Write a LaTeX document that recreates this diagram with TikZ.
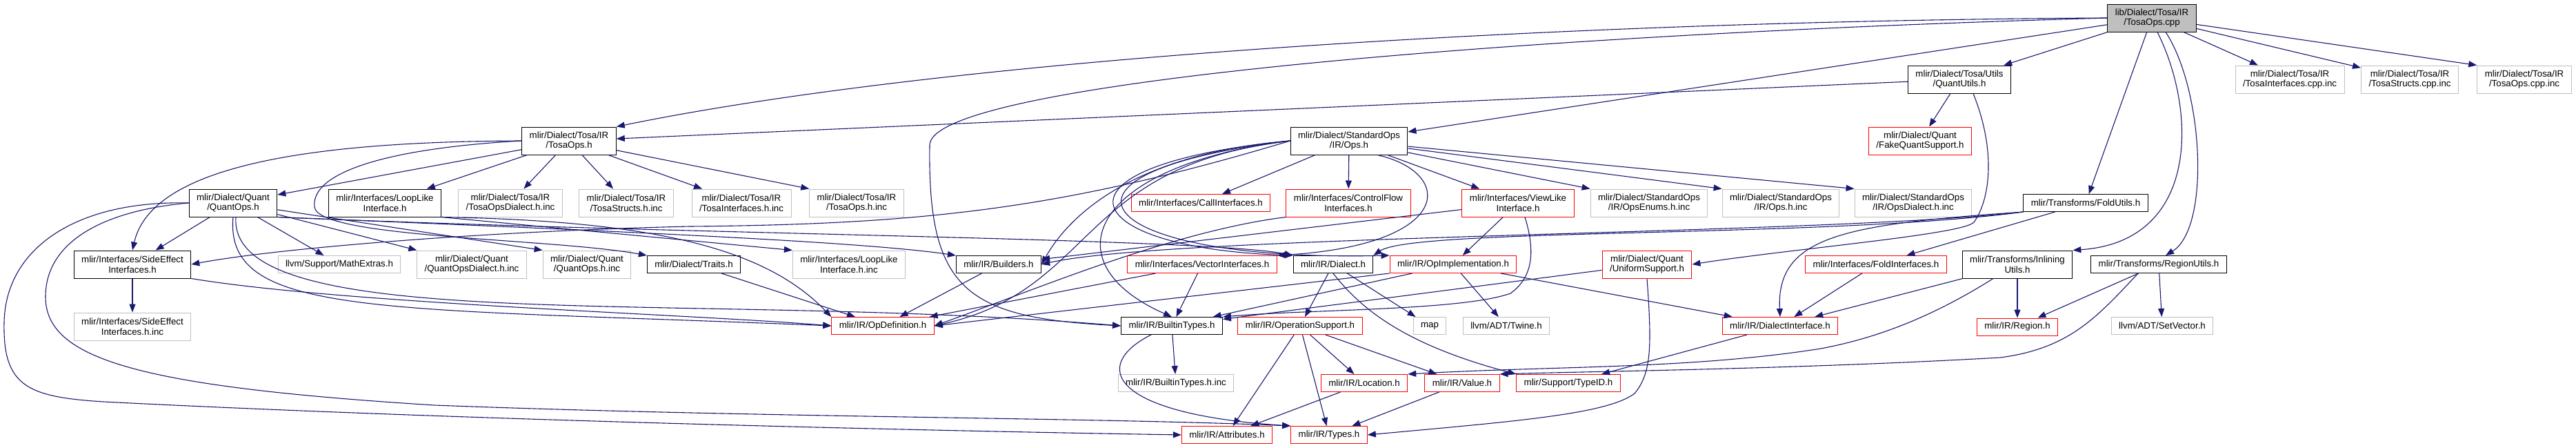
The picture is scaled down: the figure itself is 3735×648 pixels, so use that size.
\documentclass[tikz,border=0pt]{standalone}
\usepackage{fontspec}
\setmainfont{Liberation Sans}
\usetikzlibrary{arrows.meta, positioning}
\definecolor{edgeblue}{HTML}{191970}
\definecolor{incgray}{HTML}{BFBFBF}
\definecolor{srcgray}{HTML}{BFBFBF}
\newcommand{\filefont}{\fontsize{13.3}{14.5}\selectfont}

\begin{document}
\begin{tikzpicture}[
  x=1pt, y=-1pt,
  box/.style={draw=black, fill=white, line width=1pt, font=\filefont, align=center, inner xsep=11pt, inner ysep=2pt, minimum height=25pt},
  two/.style={minimum height=40pt},
  inc/.style={box, draw=incgray},
  trunc/.style={box, draw=red},
  src/.style={box, two, fill=srcgray},
  arrow/.style={-{Triangle[length=12pt, width=9pt]}, draw=edgeblue, line width=1.1pt}
]
  \useasboundingbox (0,0) rectangle (3735,648);

  % RANG 0 et 1 ================================
  \node[src] (root) at (3120,26) {lib/Dialect/Tosa/IR\\/TosaOps.cpp};
  \node[box, two] (quantutils) at (2841,115) {mlir/Dialect/Tosa/Utils\\/QuantUtils.h};
  \node[inc, two] (tosainterfacescpp) at (3320,115) {mlir/Dialect/Tosa/IR\\/TosaInterfaces.cpp.inc};
  \node[inc, two] (tosastructscpp) at (3494,115) {mlir/Dialect/Tosa/IR\\/TosaStructs.cpp.inc};
  \node[inc, two] (tosaopscpp) at (3660,115) {mlir/Dialect/Tosa/IR\\/TosaOps.cpp.inc};

  % RANG 2
  \node[box, two] (tosaopsh) at (825,204) {mlir/Dialect/Tosa/IR\\/TosaOps.h};
  \node[box, two] (stdops) at (1956,204) {mlir/Dialect/StandardOps\\/IR/Ops.h};
  \node[trunc, two] (fakequant) at (2784,204) {mlir/Dialect/Quant\\/FakeQuantSupport.h};

  % RANG 3
  \node[box, two] (quantops) at (338,294) {mlir/Dialect/Quant\\/QuantOps.h};
  \node[box, two] (looplike) at (558,294) {mlir/Interfaces/LoopLike\\Interface.h};
  \node[inc, two] (tosadialectinc) at (740,294) {mlir/Dialect/Tosa/IR\\/TosaOpsDialect.h.inc};
  \node[inc, two] (tosastructsinc) at (908,294) {mlir/Dialect/Tosa/IR\\/TosaStructs.h.inc};
  \node[inc, two] (tosainterfacesinc) at (1075,294) {mlir/Dialect/Tosa/IR\\/TosaInterfaces.h.inc};
  \node[inc, two] (tosaopsinc) at (1242,294) {mlir/Dialect/Tosa/IR\\/TosaOps.h.inc};
  \node[trunc] (callif) at (1741,294) {mlir/Interfaces/CallInterfaces.h};
  \node[trunc, two] (controlflow) at (1955,294) {mlir/Interfaces/ControlFlow\\Interfaces.h};
  \node[trunc, two] (viewlike) at (2201,294) {mlir/Interfaces/ViewLike\\Interface.h};
  \node[inc, two] (opsenums) at (2391,294) {mlir/Dialect/StandardOps\\/IR/OpsEnums.h.inc};
  \node[inc, two] (opsinc) at (2582,294) {mlir/Dialect/StandardOps\\/IR/Ops.h.inc};
  \node[inc, two] (opsdialectinc) at (2774,294) {mlir/Dialect/StandardOps\\/IR/OpsDialect.h.inc};
  \node[box] (foldutils) at (3024,294) {mlir/Transforms/FoldUtils.h};

  % RANG 4
  \node[box, two] (sideeffect) at (192,383) {mlir/Interfaces/SideEffect\\Interfaces.h};
  \node[inc, two, below=49pt of sideeffect] (sideeffectinc) {mlir/Interfaces/SideEffect\\Interfaces.h.inc};
  \node[inc] (mathextras) at (492,383) {llvm/Support/MathExtras.h};
  \node[inc, two] (quantdialectinc) at (684,383) {mlir/Dialect/Quant\\/QuantOpsDialect.h.inc};
  \node[inc, two] (quantopsinc) at (851,383) {mlir/Dialect/Quant\\/QuantOps.h.inc};
  \node[box] (traits) at (1006,383) {mlir/Dialect/Traits.h};
  \node[inc, two] (looplikeinc) at (1231,383) {mlir/Interfaces/LoopLike\\Interface.h.inc};
  \node[box] (builders) at (1448,383) {mlir/IR/Builders.h};
  \node[trunc] (vectorif) at (1743,383) {mlir/Interfaces/VectorInterfaces.h};
  \node[box] (dialect) at (1933,383) {mlir/IR/Dialect.h};
  \node[trunc] (opimpl) at (2107,383) {mlir/IR/OpImplementation.h};
  \node[trunc, two] (uniform) at (2388,383) {mlir/Dialect/Quant\\/UniformSupport.h};
  \node[trunc] (foldif) at (2720,383) {mlir/Interfaces/FoldInterfaces.h};
  \node[box, two] (inlining) at (2925,383) {mlir/Transforms/Inlining\\Utils.h};
  \node[box] (regionutils) at (3130,383) {mlir/Transforms/RegionUtils.h};

  % RANG 5
  \node[trunc] (opdef) at (1280,472) {mlir/IR/OpDefinition.h};
  \node[box] (builtintypes) at (1699,472) {mlir/IR/BuiltinTypes.h};
  \node[trunc] (opsupport) at (1885,472) {mlir/IR/OperationSupport.h};
  \node[inc] (map) at (2073,472) {map};
  \node[inc] (twine) at (2184,472) {llvm/ADT/Twine.h};
  \node[trunc] (dialectif) at (2581,472) {mlir/IR/DialectInterface.h};
  \node[trunc, below=57pt of inlining] (region) {mlir/IR/Region.h};
  \node[inc] (setvector) at (3135,472) {llvm/ADT/SetVector.h};

  % RANG 6 et 7
  \node[inc, below=57pt of builtintypes, xshift=6pt] (builtintypesinc) {mlir/IR/BuiltinTypes.h.inc};
  \node[trunc] (location) at (1978,555) {mlir/IR/Location.h};
  \node[trunc] (value) at (2120,555) {mlir/IR/Value.h};
  \node[trunc] (typeid) at (2274,555) {mlir/Support/TypeID.h};
  \node[trunc] (attributes) at (1779,630) {mlir/IR/Attributes.h};
  \node[trunc] (types) at (1927,630) {mlir/IR/Types.h};

  % Fichier source
  \draw[arrow] (root.west) .. controls (2300,30) and (1400,80) .. (tosaopsh.north east);
  \draw[arrow] (root) -- (stdops);
  \draw[arrow] (root) -- (quantutils);
  \draw[arrow] (root.west) .. controls (2200,50) and (1350,120) .. (1348,210) .. controls (1345,420) and (1400,460) .. (builtintypes.west);
  \draw[arrow] (root) -- (foldutils);
  \draw[arrow] ([xshift=8pt]root.south) .. controls (3185,160) and (3190,350) .. (inlining.north east);
  \draw[arrow] ([xshift=20pt]root.south) .. controls (3195,130) and (3205,330) .. ([xshift=10pt]regionutils.north);
  \draw[arrow] (root) -- (tosainterfacescpp);
  \draw[arrow] (root) -- (tosastructscpp);
  \draw[arrow] (root) -- (tosaopscpp.north west);

  % QuantUtils.h
  \draw[arrow] (quantutils) -- (fakequant);
  \draw[arrow] (quantutils) -- (tosaopsh);
  \draw[arrow] ([xshift=20pt]quantutils.south) .. controls (2895,220) and (2885,290) .. (2862,322) .. controls (2845,340) and (2600,360) .. (uniform.east);

  % TosaOps.h
  \draw[arrow] (tosaopsh) -- (quantops);
  \draw[arrow] (tosaopsh) -- (looplike);
  \draw[arrow] (tosaopsh) -- (tosadialectinc);
  \draw[arrow] (tosaopsh) -- (tosastructsinc);
  \draw[arrow] (tosaopsh) -- (tosainterfacesinc);
  \draw[arrow] (tosaopsh) -- (tosaopsinc.north west);
  \draw[arrow] (tosaopsh.west) .. controls (450,205) and (220,240) .. (sideeffect.north);
  \draw[arrow] (tosaopsh.west) .. controls (560,215) and (450,250) .. (456,300) .. controls (462,345) and (800,345) .. (traits.north west);

  % QuantOps.h
  \draw[arrow] (quantops) -- (sideeffect);
  \draw[arrow] (quantops) -- (mathextras);
  \draw[arrow] (quantops) -- (quantdialectinc);
  \draw[arrow] (quantops) -- (quantopsinc.north west);
  \draw[arrow] (quantops.south east) .. controls (900,335) and (1250,350) .. (builders.north west);
  \draw[arrow] (quantops.south east) .. controls (1000,340) and (1750,345) .. (dialect.north west);
  \draw[arrow] (quantops.south) .. controls (325,460) and (550,445) .. (opdef.west);
  \draw[arrow] ([xshift=4pt]quantops.south) .. controls (330,490) and (1000,420) .. (builtintypes.west);
  \draw[arrow] (quantops.west) .. controls (110,290) and (8,360) .. (6,467) .. controls (4,560) and (40,575) .. (150,582) .. controls (700,610) and (1400,625) .. (attributes.west);
  \draw[arrow] (quantops.west) .. controls (150,305) and (66,350) .. (66,430) .. controls (66,520) and (200,560) .. (630,587) .. controls (1100,605) and (1600,605) .. (types.north west);

  % SideEffect, LoopLike, Traits
  \draw[arrow] (sideeffect) -- (sideeffectinc);
  \draw[arrow] (sideeffect.south east) .. controls (500,440) and (1000,455) .. (opdef.west);
  \draw[arrow] (looplike.south east) -- (looplikeinc.north west);
  \draw[arrow] (looplike.south east) .. controls (950,320) and (1110,360) .. (opdef.north west);
  \draw[arrow] (traits) -- (opdef);

  % StandardOps/IR/Ops.h
  \draw[arrow] (stdops) -- (callif);
  \draw[arrow] (stdops) -- (controlflow);
  \draw[arrow] (stdops) -- (viewlike);
  \draw[arrow] (stdops) -- (opsenums.north west);
  \draw[arrow] (stdops) -- (opsinc.north west);
  \draw[arrow] (stdops) -- (opsdialectinc.north west);
  \draw[arrow] (stdops.west) .. controls (1550,300) and (1350,325) .. (1000,328) .. controls (700,335) and (400,360) .. (sideeffect.east);
  \draw[arrow] (stdops.west) .. controls (1620,225) and (1540,330) .. (builders.east);
  \draw[arrow] (stdops.west) .. controls (1580,240) and (1520,380) .. (builtintypes.north);
  \draw[arrow] (stdops.west) .. controls (1560,240) and (1590,420) .. (opdef.east);
  \draw[arrow] (stdops.west) .. controls (1500,240) and (1560,360) .. (dialect.north west);
  \draw[arrow] (stdops.west) .. controls (1480,250) and (1580,380) .. (opimpl.north west);
  \draw[arrow] ([xshift=41pt]stdops.south) .. controls (2110,250) and (2110,355) .. (vectorif.north east);

  % Interfaces
  \draw[arrow] (controlflow.south west) .. controls (1700,335) and (1500,420) .. (opdef.east);
  \draw[arrow] (viewlike) -- (builders);
  \draw[arrow] (viewlike) -- (opimpl);
  \draw[arrow] ([xshift=10pt]viewlike.south) .. controls (2225,360) and (2225,400) .. (2190,425) .. controls (2120,450) and (1900,448) .. (builtintypes.north east);
  \draw[arrow] (vectorif) -- (builtintypes);
  \draw[arrow] (vectorif) -- (opdef);

  % IR
  \draw[arrow] (builders) -- (opdef);
  \draw[arrow] (dialect) -- (opsupport);
  \draw[arrow] (dialect) -- (map);
  \draw[arrow] (dialect.south) .. controls (1975,450) and (2040,500) .. (typeid.north west);
  \draw[arrow] (opimpl) -- (twine);
  \draw[arrow] (opimpl) -- (builtintypes);
  \draw[arrow] (opimpl.south west) -- (opdef.east);
  \draw[arrow] (opimpl) -- (dialectif);
  \draw[arrow] (uniform) -- (builtintypes);
  \draw[arrow] (uniform.south) .. controls (2395,500) and (2395,540) .. (2370,570) .. controls (2330,600) and (2200,610) .. (types.east);
  \draw[arrow] (opsupport) -- (attributes);
  \draw[arrow] (opsupport) -- (types);
  \draw[arrow] (opsupport) -- (location);
  \draw[arrow] (opsupport) -- (value);
  \draw[arrow] (location) -- (attributes);
  \draw[arrow] (value) -- (types);
  \draw[arrow] (builtintypes) -- (builtintypesinc);
  \draw[arrow] ([xshift=-30pt]builtintypes.south) .. controls (1580,530) and (1610,600) .. (types.north west);
  \draw[arrow] (dialectif) -- (typeid);

  % Transforms
  \draw[arrow] (foldif) -- (dialectif);
  \draw[arrow] (foldutils) -- (foldif);
  \draw[arrow] (foldutils.south west) .. controls (2680,325) and (2575,340) .. (dialectif.north);
  \draw[arrow] (foldutils.south west) .. controls (2650,340) and (1700,340) .. (builders.east);
  \draw[arrow] (foldutils.south west) .. controls (2650,345) and (2050,330) .. (dialect.north east);
  \draw[arrow] (inlining) -- (dialectif);
  \draw[arrow] (inlining) -- (region);
  \draw[arrow] ([xshift=-35pt]inlining.south) .. controls (2800,460) and (2720,490) .. (2640,505) .. controls (2450,535) and (2250,530) .. (location.north east);
  \draw[arrow] (regionutils) -- (region);
  \draw[arrow] (regionutils) -- (setvector);
  \draw[arrow] ([xshift=-30pt]regionutils.south) .. controls (3040,460) and (3000,505) .. (2900,518) .. controls (2600,535) and (2300,538) .. (value.north east);

\end{tikzpicture}
\end{document}
